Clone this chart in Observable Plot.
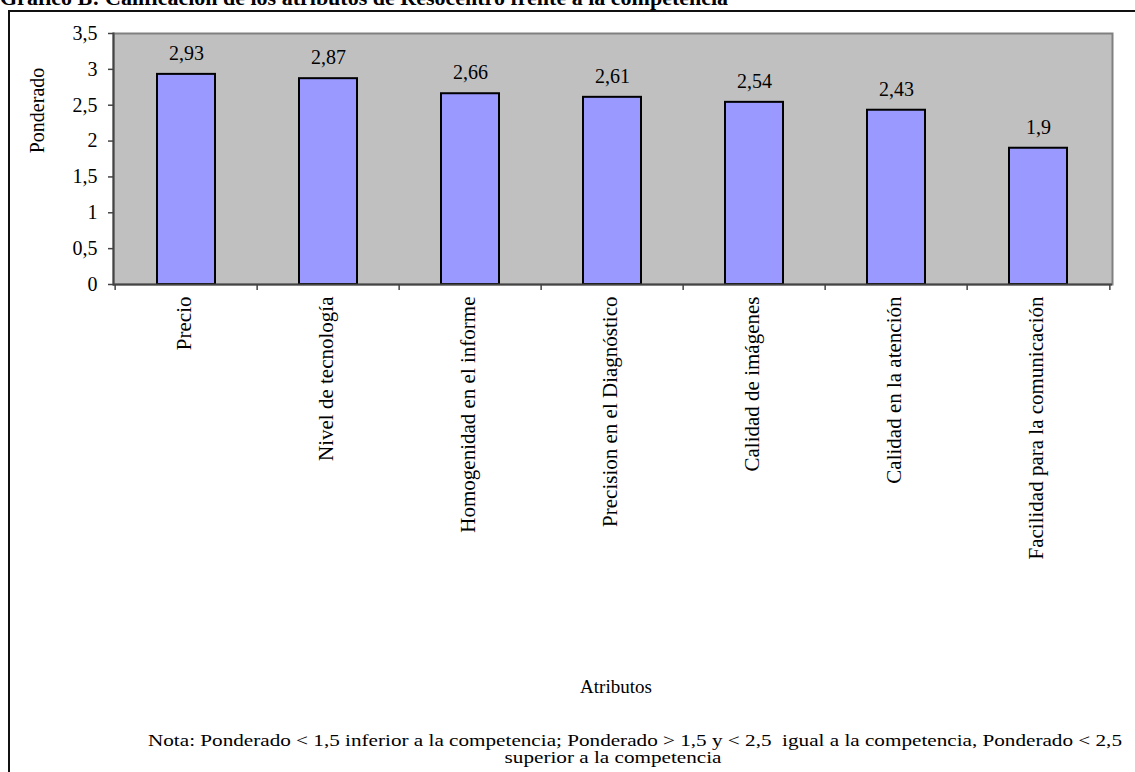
<!DOCTYPE html>
<html>
<head>
<meta charset="utf-8">
<script src="https://cdn.jsdelivr.net/npm/d3@7"></script>
<script src="https://cdn.jsdelivr.net/npm/@observablehq/plot@0.6"></script>
<style>
  html, body { margin: 0; padding: 0; background: #fff; overflow: hidden; }
  #page { position: relative; width: 1135px; height: 772px; overflow: hidden; }
  #frame { position: absolute; left: 8px; top: 10px; width: 3000px; height: 3000px;
           border-left: 2px solid #111; border-top: 2px solid #111; }
  #title { position: absolute; left: 0; top: -13px; white-space: nowrap;
           font: bold 22px/1 "Liberation Serif", "Times New Roman", serif; color: #000; z-index: 2; }
  #chart { position: absolute; left: 0; top: 0; }
  #chart text { font-family: "Liberation Serif", "Times New Roman", serif; }
</style>
</head>
<body>
<div id="page">
  <div id="frame"></div>
  <div id="title">Gráfico B: Calificación de los atributos de Resocentro frente a la competencia</div>
  <div id="chart"></div>
</div>
<script>
// Atributos evaluados y su puntaje ponderado
const atributos = [
  "Precio",
  "Nivel de tecnología",
  "Homogenidad en el informe",
  "Precision en el Diagnóstico",
  "Calidad de imágenes",
  "Calidad en la atención",
  "Facilidad para la comunicación"
];
const ponderado = [2.93, 2.87, 2.66, 2.61, 2.54, 2.43, 1.9];
const yTicks = [0, 0.5, 1, 1.5, 2, 2.5, 3, 3.5];
const ejeX = "Atributos";
const ejeY = "Ponderado";
const nota1 = "Nota: Ponderado < 1,5 inferior a la competencia; Ponderado > 1,5 y < 2,5  igual a la competencia, Ponderado < 2,5";
const nota2 = "superior a la competencia";

const rows = atributos.map((a, i) => ({atributo: a, valor: ponderado[i]}));
const fmt = v => String(v).replace(".", ",");

const W = 1135, H = 772;
const mL = 113, mR = 23, mT = 33, mB = 488;
const step = (W - mL - mR) / atributos.length;
const serif = '"Liberation Serif", "Times New Roman", serif';

const chart = Plot.plot({
  width: W,
  height: H,
  marginLeft: mL,
  marginRight: mR,
  marginTop: mT,
  marginBottom: mB,
  style: {fontFamily: serif, fontSize: "20px", color: "#000", background: "transparent", overflow: "visible"},
  x: {domain: atributos, paddingInner: 0.59, paddingOuter: 0.295, axis: null},
  y: {domain: [0, 3.5], axis: null},
  marks: [
    Plot.frame({fill: "#C0C0C0", stroke: "#808080", strokeWidth: 2}),
    Plot.barY(rows, {x: "atributo", y: "valor", fill: "#9999FF", stroke: "#000", strokeWidth: 2}),
    Plot.frame({anchor: "left", stroke: "#444", strokeWidth: 2}),
    Plot.ruleY([0], {stroke: "#444", strokeWidth: 2}),
    // marcas de división entre categorías
    Plot.ruleX(atributos, {x: d => d, y1: 0, y2: 0, insetBottom: -6, dx: -step / 2, stroke: "#444", strokeWidth: 1.5}),
    Plot.ruleX(atributos.slice(-1), {x: d => d, y1: 0, y2: 0, insetBottom: -6, dx: step / 2, stroke: "#444", strokeWidth: 1.5}),
    Plot.axisY({ticks: yTicks, tickFormat: fmt, tickSize: 5, tickPadding: 11, stroke: "#444", strokeWidth: 1.5, fontSize: 20, label: null}),
    Plot.text(rows, {x: "atributo", y: "valor", text: d => fmt(d.valor), dy: -21, fontSize: 20, fontFamily: serif}),
    Plot.text(atributos, {x: d => d, frameAnchor: "bottom", rotate: -90, textAnchor: "end", dx: 4, dy: 12, fontSize: 21, fontFamily: serif}),
    Plot.text([ejeY], {frameAnchor: "top-left", textAnchor: "middle", dx: -84, dy: 77, rotate: -90, fontSize: 20, fontFamily: serif}),
    Plot.text([ejeX], {frameAnchor: "bottom", dx: 3, dy: 408, fontSize: 19, fontFamily: serif}),
    Plot.text([nota1], {frameAnchor: "bottom", dx: 22, dy: 461, fontSize: 17, fontFamily: serif, className: "nota"}),
    Plot.text([nota2], {frameAnchor: "bottom", dx: 0, dy: 478, fontSize: 17, fontFamily: serif, className: "nota"})
  ]
});
document.getElementById("chart").appendChild(chart);

// la nota se dibuja ensanchada horizontalmente
const notaTexts = d3.select(chart).selectAll(".nota text").nodes();
if (notaTexts.length === 2) {
  const w1 = notaTexts[0].getComputedTextLength();
  const k = 974 / w1;
  notaTexts.forEach(t => {
    const w = t.getComputedTextLength();
    t.setAttribute("textLength", (w * k).toFixed(1));
    t.setAttribute("lengthAdjust", "spacingAndGlyphs");
  });
}
</script>
</body>
</html>
